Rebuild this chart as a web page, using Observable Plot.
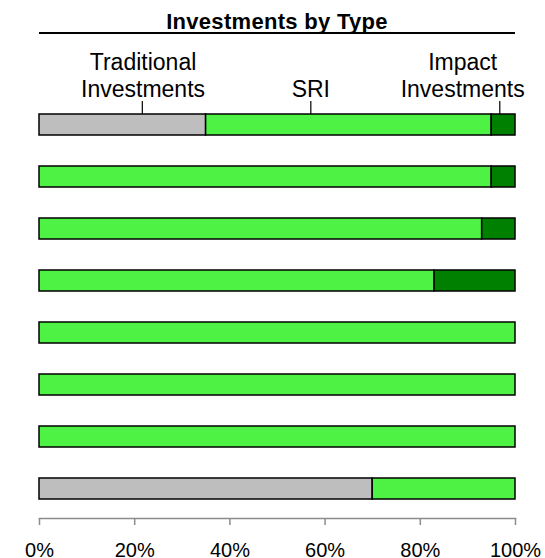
<!DOCTYPE html>
<html>
<head>
<meta charset="utf-8">
<script src="https://cdn.jsdelivr.net/npm/d3@7"></script>
<script src="https://cdn.jsdelivr.net/npm/@observablehq/plot@0.6"></script>
<style>
  body { margin: 0; background: #fff; font-family: "Liberation Sans", Arial, sans-serif; }
  #title { margin-left: 39px; width: 476px; text-align: center; font-weight: bold; font-size: 22px;
           letter-spacing: 0.3px; line-height: 20px; padding-top: 12px; height: 20px; border-bottom: 2px solid #000; }
</style>
</head>
<body>
<div id="title">Investments by Type</div>
<div id="chart"></div>
<script>
const rows = [1, 2, 3, 4, 5, 6, 7, 8];
const traditional = [35, 0, 0, 0, 0, 0, 0, 70];
const sri = [60, 95, 93, 83, 100, 100, 100, 30];
const impact = [5, 5, 7, 17, 0, 0, 0, 0];
const categories = ["Traditional\nInvestments", "SRI", "Impact\nInvestments"];
const labelX = [21.75, 57, 88.9];
const leaderX = [21.6, 57, 96.7];
const tickValues = [0, 20, 40, 60, 80, 100];
const colors = ["#bebebe", "#4df245", "#008000"];

const segments = [];
rows.forEach((r, i) => {
  const vals = [traditional[i], sri[i], impact[i]];
  let start = 0;
  vals.forEach((v, k) => {
    if (v > 0) segments.push({row: r, type: k, x1: start, x2: start + v});
    start += v;
  });
});
const labels = categories.map((c, k) => ({text: c, x: labelX[k], lx: leaderX[k], row: rows[0]}));

const plot = Plot.plot({
  width: 545,
  height: 524,
  marginLeft: 39,
  marginRight: 30,
  marginTop: 60,
  marginBottom: 40,
  style: {fontFamily: "Liberation Sans, Arial, sans-serif", background: "#fff"},
  x: {domain: [0, 100], axis: null},
  y: {type: "band", domain: rows, paddingInner: 0.6, paddingOuter: 0.3226, axis: null},
  marks: [
    Plot.barX(segments, {y: "row", x1: "x1", x2: "x2", fill: d => colors[d.type], stroke: "#000", strokeWidth: 1.5}),
    Plot.tickX(labels, {x: "lx", y: "row", stroke: "#000", strokeWidth: 1.2, insetTop: -13, insetBottom: 21.1}),
    Plot.text(labels, {x: "x", y: "row", text: "text", fontSize: 23, lineHeight: 1.16, lineAnchor: "bottom", dy: -28.2, fill: "#000"}),
    Plot.frame({anchor: "bottom", stroke: "#8c8c8c", strokeWidth: 1.5}),
    Plot.axisX({ticks: tickValues, tickFormat: d => d + "%", tickSize: 7, tickPadding: 17, stroke: "#8c8c8c", strokeWidth: 1.5, fill: "#000", fontSize: 20})
  ]
});
document.getElementById("chart").appendChild(plot);
</script>
</body>
</html>
